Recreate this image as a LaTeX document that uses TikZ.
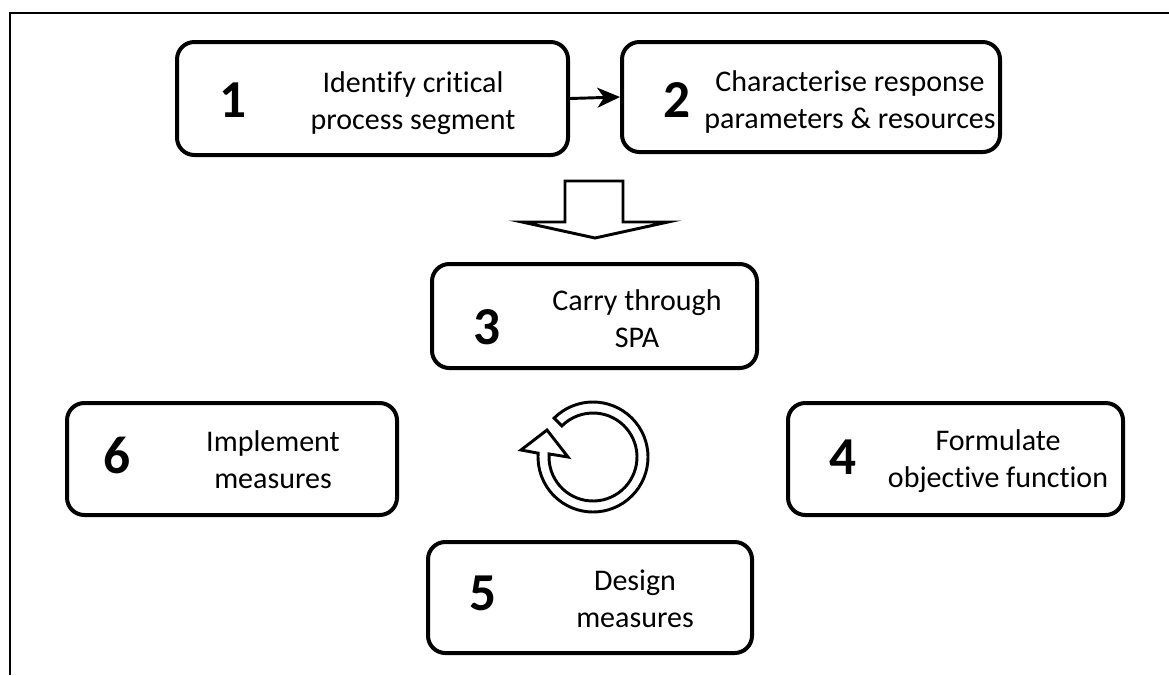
\documentclass[tikz,border=0pt]{standalone}
\usepackage{fontspec}
\setmainfont{Carlito}[Ligatures={NoCommon}]
\usetikzlibrary{arrows.meta}
\begin{document}
\begin{tikzpicture}[x=0.75pt,y=-0.75pt,
  box/.style={draw, line width=3pt, rounded corners=13pt, inner sep=0pt},
  num/.style={font=\fontsize{40}{40}\selectfont\bfseries, inner sep=0pt},
  txt/.style={font=\fontsize{22.5}{27.75}\selectfont, align=center, inner sep=0pt},
  frame/.style={line width=2pt}]
\useasboundingbox (0,0) rectangle (1169,675);
\draw[frame] (1169,13) -- (10,13) -- (10,675);
% boxes
\node[box, minimum width=293.25pt, minimum height=84.75pt] (b1) at (372.5,98.5) {};
\node[box, minimum width=283.5pt, minimum height=82.5pt] (b2) at (811,97) {};
\node[box, minimum width=243.75pt, minimum height=78pt] (b3) at (594.5,316) {};
\node[box, minimum width=251.25pt, minimum height=84pt] (b4) at (955.5,459) {};
\node[box, minimum width=243pt, minimum height=83.25pt] (b5) at (590,597.5) {};
\node[box, minimum width=247.5pt, minimum height=84pt] (b6) at (232,459) {};
% numbers
\node[num] (n1) at (233,100) {1};
\node[num] (n2) at (677,100) {2};
\node[num] (n3) at (487,327) {3};
\node[num] (n4) at (843,457) {4};
\node[num] (n5) at (483,593) {5};
\node[num] (n6) at (117,455) {6};
% texts
\node[txt] (t1) at (413,103) {Identify critical\\process segment};
\node[txt] (t2) at (850,102) {Characterise response\\parameters \& resources};
\node[txt] (t3) at (637,319) {Carry through\\SPA};
\node[txt] (t4) at (998,461) {Formulate\\objective function};
\node[txt] (t5) at (635,599) {Design\\measures};
\node[txt] (t6) at (273,460) {Implement\\measures};
% arrow 1 -> 2
\draw[line width=2.2pt, -{Stealth[length=17pt, width=15pt, inset=5pt]}] (b1.east) -- (b2.west);
% block arrow
\draw[line width=2.2pt, fill=white, line join=miter]
  (565,181) -- (623,181) -- (623,222) -- (668,222) -- (595,238) -- (522,222) -- (565,222) -- cycle;
% circular arrow
\begin{scope}[shift={(593,457)}, yscale=-1]
\draw[line width=2.2pt, fill=white, line join=miter]
  (135:55) arc[start angle=135, end angle=-184, radius=55]
  -- (-72,7) -- (-46,27) -- (-25,0)
  -- (-184:44) arc[start angle=-184, end angle=135, radius=44] -- cycle;
\end{scope}
\end{tikzpicture}
\end{document}
